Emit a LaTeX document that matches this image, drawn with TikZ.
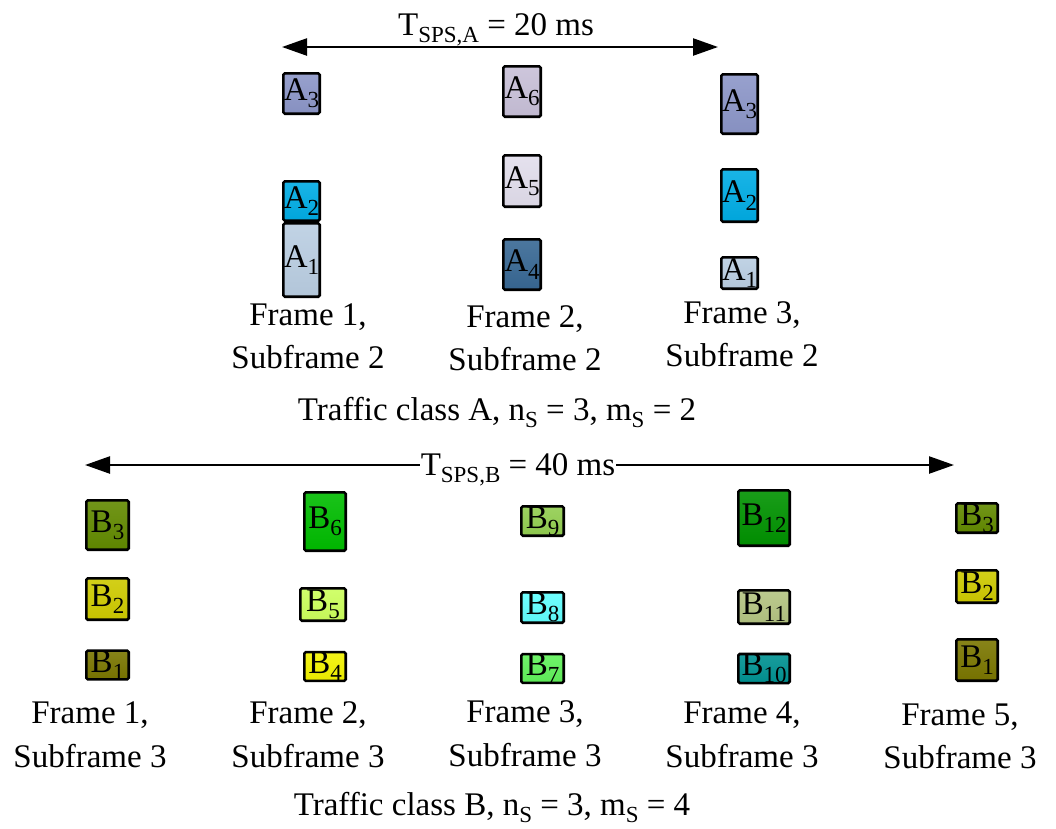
\documentclass[tikz,border=0pt]{standalone}
\usepackage{fontspec}
\setmainfont{Liberation Serif}
\usetikzlibrary{arrows.meta}
\newcommand{\lsub}[1]{\raisebox{-0.22em}{\fontsize{23}{23}\selectfont #1}}
\definecolor{cAthree}{RGB}{140,150,200}
\definecolor{cAtwo}{RGB}{0,172,228}
\definecolor{cAone}{RGB}{186,206,226}
\definecolor{cAsix}{RGB}{200,192,216}
\definecolor{cAfive}{RGB}{226,222,236}
\definecolor{cAfour}{RGB}{56,104,148}
\definecolor{cBone}{RGB}{122,118,0}
\definecolor{cBtwo}{RGB}{206,202,0}
\definecolor{cBthree}{RGB}{98,138,0}
\definecolor{cBfour}{RGB}{242,242,0}
\definecolor{cBfive}{RGB}{204,255,92}
\definecolor{cBsix}{RGB}{0,188,0}
\definecolor{cBseven}{RGB}{96,242,90}
\definecolor{cBeight}{RGB}{96,255,255}
\definecolor{cBnine}{RGB}{146,206,80}
\definecolor{cBten}{RGB}{0,146,146}
\definecolor{cBeleven}{RGB}{180,196,130}
\definecolor{cBtwelve}{RGB}{0,146,0}
\tikzset{
  pkt/.style={draw=black, line width=2.6pt, rounded corners=1.5pt, inner sep=0pt,
    font=\fontsize{33}{33}\selectfont},
  lbl/.style={inner sep=0pt, anchor=base, font=\fontsize{33}{40}\selectfont},
  span/.style={line width=2.4pt, {Triangle[length=25pt,width=17pt]}-{Triangle[length=25pt,width=17pt]}},
}
% box: name, cx, cy, w, h, colour, text
\newcommand{\pbox}[7]{\node[pkt, top color=#6!90!white, bottom color=#6!96!black, minimum width=#4pt-2.6pt, minimum height=#5pt-2.6pt] (#1) at (#2,#3) {#7};}
\begin{document}
\begin{tikzpicture}[x=1pt,y=-1pt]
\useasboundingbox (0,0) rectangle (1056,828);
% ---- Traffic class A ----
\coordinate (ta1) at (282,47);
\coordinate (ta2) at (718,47);
\draw[span] (ta1) -- (ta2);
\node[lbl] (tlA) at (496,35) {T\lsub{SPS,A} = 20 ms};

\pbox{A3a}{301.5}{93.5}{39}{43}{cAthree}{A\lsub{3}}
\pbox{A2a}{301.5}{201}{39}{42}{cAtwo}{A\lsub{2}}
\pbox{A1a}{301.5}{260}{39}{76}{cAone}{A\lsub{1}}
\pbox{A6}{522}{91.5}{40}{53}{cAsix}{A\lsub{6}}
\pbox{A5}{522}{181}{40}{54}{cAfive}{A\lsub{5}}
\pbox{A4}{522}{264.5}{40}{53}{cAfour}{A\lsub{4}}
\pbox{A3b}{739.5}{104}{39}{62}{cAthree}{A\lsub{3}}
\pbox{A2b}{739.5}{195.5}{39}{55}{cAtwo}{A\lsub{2}}
\pbox{A1b}{739.5}{273}{39}{34}{cAone}{A\lsub{1}}

\node[lbl] (fa1a) at (308,325) {Frame 1,};
\node[lbl] (fa1b) at (308,368) {Subframe 2};
\node[lbl] (fa2a) at (525,327) {Frame 2,};
\node[lbl] (fa2b) at (525,370) {Subframe 2};
\node[lbl] (fa3a) at (742,323) {Frame 3,};
\node[lbl] (fa3b) at (742,366) {Subframe 2};
\node[lbl] (clA) at (497,420) {Traffic class A, n\lsub{S} = 3, m\lsub{S} = 2};

% ---- Traffic class B ----
\coordinate (tb1) at (85,465);
\coordinate (tb2) at (954,465);
\draw[span] (tb1) -- (tb2);
\node[lbl, fill=white, inner xsep=1pt, inner ysep=2pt] (tlB) at (518,475) {T\lsub{SPS,B} = 40 ms};

\pbox{B3a}{107.5}{525}{45}{52}{cBthree}{B\lsub{3}}
\pbox{B2a}{107.5}{599}{45}{44}{cBtwo}{B\lsub{2}}
\pbox{B1a}{107.5}{665}{45}{28}{cBone}{B\lsub{1}}
\pbox{B6}{325}{521.5}{44}{61}{cBsix}{B\lsub{6}}
\pbox{B5}{323}{604.5}{48}{35}{cBfive}{B\lsub{5}}
\pbox{B4}{325}{666.5}{44}{29}{cBfour}{B\lsub{4}}
\pbox{B9}{542.5}{521}{45}{32}{cBnine}{B\lsub{9}}
\pbox{B8}{542.5}{607.5}{45}{33}{cBeight}{B\lsub{8}}
\pbox{B7}{542.5}{668.5}{45}{29}{cBseven}{B\lsub{7}}
\pbox{B12}{764}{518}{54}{58}{cBtwelve}{B\lsub{12}}
\pbox{B11}{764}{607}{54}{36}{cBeleven}{B\lsub{11}}
\pbox{B10}{764}{668.5}{54}{29}{cBten}{B\lsub{10}}
\pbox{B3b}{977}{518}{44}{32}{cBthree}{B\lsub{3}}
\pbox{B2b}{977}{586.5}{44}{35}{cBtwo}{B\lsub{2}}
\pbox{B1b}{977}{660}{44}{44}{cBone}{B\lsub{1}}

\node[lbl] (fb1a) at (90,723) {Frame 1,};
\node[lbl] (fb1b) at (90,767) {Subframe 3};
\node[lbl] (fb2a) at (308,723) {Frame 2,};
\node[lbl] (fb2b) at (308,767) {Subframe 3};
\node[lbl] (fb3a) at (525,722) {Frame 3,};
\node[lbl] (fb3b) at (525,766) {Subframe 3};
\node[lbl] (fb4a) at (742,723) {Frame 4,};
\node[lbl] (fb4b) at (742,767) {Subframe 3};
\node[lbl] (fb5a) at (960,725) {Frame 5,};
\node[lbl] (fb5b) at (960,768) {Subframe 3};
\node[lbl] (clB) at (492,815) {Traffic class B, n\lsub{S} = 3, m\lsub{S} = 4};
\end{tikzpicture}
\end{document}
